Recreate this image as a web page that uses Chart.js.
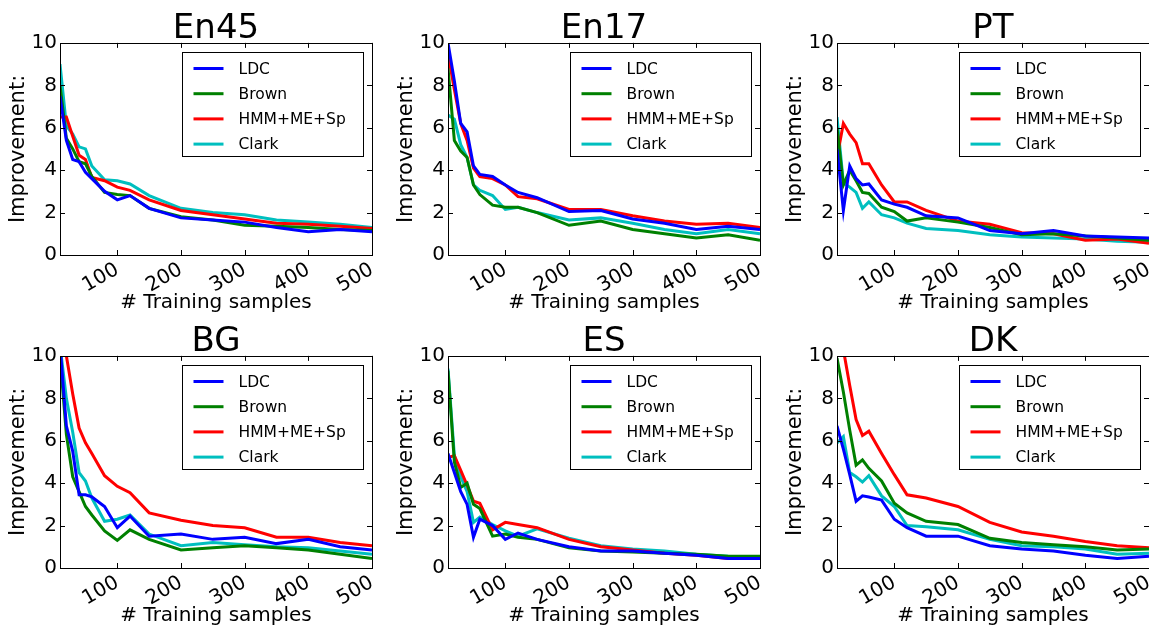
<!DOCTYPE html>
<html lang="en">
<head>
    <meta charset="UTF-8">
    <title>Improvement vs training samples</title>
    <script src="https://cdn.jsdelivr.net/npm/chart.js"></script>
    <style>
        body {
            margin: 0;
            width: 1149px;
            height: 626px;
            overflow: hidden;
            background: #ffffff;
            font-family: "DejaVu Sans", sans-serif;
            position: relative;
        }
        .panel {
            position: absolute;
            width: 383px;
            height: 313px;
        }
    </style>
</head>
<body>
    <div class="panel" style="left:0px;top:0px"><canvas id="c0"></canvas></div>
    <div class="panel" style="left:388px;top:0px"><canvas id="c1"></canvas></div>
    <div class="panel" style="left:777px;top:0px"><canvas id="c2"></canvas></div>
    <div class="panel" style="left:0px;top:313px"><canvas id="c3"></canvas></div>
    <div class="panel" style="left:388px;top:313px"><canvas id="c4"></canvas></div>
    <div class="panel" style="left:777px;top:313px"><canvas id="c5"></canvas></div>

    <script>
        // x values and tick labels
        const samples = [10, 20, 30, 40, 50, 60, 80, 100, 120, 150, 200, 250, 300, 350, 400, 450, 500];
        const xTicks = [100, 200, 300, 400, 500];
        const yTicks = [0, 2, 4, 6, 8, 10];
        const methods = ['LDC', 'Brown', 'HMM+ME+Sp', 'Clark'];
        const titles = ['En45', 'En17', 'PT', 'BG', 'ES', 'DK'];

        // one list per panel, series in the order of methods
        const en45 = [
            [7.5, 5.4, 4.5, 4.4, 3.9, 3.6, 3.0, 2.6, 2.8, 2.2, 1.75, 1.65, 1.55, 1.3, 1.1, 1.2, 1.1],
            [8.0, 5.5, 5.0, 4.4, 4.3, 3.7, 2.95, 2.85, 2.8, 2.2, 1.8, 1.65, 1.4, 1.35, 1.3, 1.2, 1.15],
            [6.5, 6.5, 5.6, 4.7, 4.5, 3.65, 3.5, 3.2, 3.05, 2.6, 2.1, 1.9, 1.7, 1.5, 1.45, 1.35, 1.25],
            [9.0, 6.1, 5.7, 5.1, 5.0, 4.2, 3.55, 3.5, 3.35, 2.8, 2.2, 2.0, 1.9, 1.65, 1.55, 1.45, 1.3]
        ];
        const en17 = [
            [10.0, 8.2, 6.2, 5.8, 4.2, 3.8, 3.7, 3.3, 2.95, 2.7, 2.05, 2.1, 1.7, 1.5, 1.2, 1.35, 1.2],
            [8.8, 5.4, 4.9, 4.6, 3.3, 2.85, 2.35, 2.25, 2.25, 2.0, 1.4, 1.6, 1.2, 1.0, 0.8, 0.95, 0.7],
            [9.5, 7.8, 6.2, 5.4, 4.1, 3.7, 3.6, 3.3, 2.75, 2.65, 2.15, 2.15, 1.85, 1.6, 1.45, 1.5, 1.3],
            [6.6, 6.4, 5.2, 4.6, 3.3, 3.05, 2.8, 2.15, 2.25, 2.0, 1.65, 1.75, 1.5, 1.2, 1.0, 1.2, 1.0]
        ];
        const pt = [
            [5.0, 2.1, 4.2, 3.6, 3.3, 3.35, 2.6, 2.4, 2.25, 1.85, 1.75, 1.15, 1.0, 1.15, 0.9, 0.85, 0.8],
            [6.0, 3.3, 4.0, 3.5, 2.95, 2.9, 2.25, 2.05, 1.6, 1.75, 1.55, 1.3, 0.95, 1.0, 0.9, 0.8, 0.7],
            [4.6, 6.2, 5.7, 5.3, 4.3, 4.3, 3.3, 2.5, 2.5, 2.1, 1.6, 1.45, 1.05, 1.0, 0.7, 0.75, 0.55],
            [6.5, 3.4, 3.2, 2.95, 2.2, 2.5, 1.9, 1.75, 1.5, 1.25, 1.15, 0.95, 0.85, 0.8, 0.75, 0.65, 0.6]
        ];
        const bg = [
            [10.5, 6.7, 5.5, 3.45, 3.45, 3.35, 2.9, 1.9, 2.45, 1.5, 1.6, 1.35, 1.45, 1.15, 1.35, 1.0, 0.85],
            [10.0, 6.3, 4.3, 3.6, 2.9, 2.5, 1.75, 1.3, 1.8, 1.35, 0.85, 0.95, 1.05, 0.95, 0.85, 0.65, 0.45],
            [12.5, 10.0, 8.2, 6.6, 5.9, 5.4, 4.35, 3.85, 3.55, 2.6, 2.25, 2.0, 1.9, 1.45, 1.45, 1.2, 1.05],
            [10.5, 8.0, 6.4, 4.5, 4.1, 3.3, 2.2, 2.3, 2.5, 1.6, 1.05, 1.2, 1.1, 1.0, 0.95, 0.8, 0.65]
        ];
        const es = [
            [5.4, 4.5, 3.6, 3.0, 1.45, 2.3, 2.0, 1.35, 1.65, 1.35, 1.0, 0.8, 0.8, 0.7, 0.6, 0.45, 0.45],
            [9.3, 5.0, 3.8, 4.0, 3.0, 2.8, 1.5, 1.6, 1.45, 1.35, 0.95, 0.8, 0.75, 0.7, 0.65, 0.55, 0.55],
            [5.2, 5.3, 4.6, 3.9, 3.15, 3.05, 1.8, 2.15, 2.05, 1.9, 1.35, 1.0, 0.85, 0.7, 0.6, 0.45, 0.45],
            [9.4, 5.3, 4.3, 3.6, 2.15, 2.4, 2.05, 1.75, 1.5, 1.85, 1.4, 1.05, 0.9, 0.8, 0.65, 0.55, 0.5]
        ];
        const dk = [
            [6.7, 5.6, 4.4, 3.15, 3.4, 3.35, 3.2, 2.3, 1.9, 1.5, 1.5, 1.05, 0.9, 0.8, 0.6, 0.45, 0.55],
            [9.9, 8.3, 6.5, 4.85, 5.1, 4.7, 4.1, 3.05, 2.6, 2.2, 2.05, 1.4, 1.2, 1.1, 1.0, 0.85, 0.9],
            [13.0, 10.3, 8.6, 7.0, 6.25, 6.45, 5.4, 4.4, 3.45, 3.3, 2.9, 2.15, 1.7, 1.5, 1.25, 1.05, 0.95],
            [5.9, 6.2, 4.5, 4.3, 4.05, 4.35, 3.4, 2.9, 2.0, 1.95, 1.8, 1.35, 1.05, 1.0, 0.9, 0.65, 0.7]
        ];

        const panelData = [en45, en17, pt, bg, es, dk];
        const lineColors = ['#0000ff', '#008000', '#ff0000', '#00bfbf'];
        const FONT = '"DejaVu Sans", sans-serif';

        // box around the plot + inward tick marks like matplotlib
        const framePlugin = {
            id: 'frame',
            afterDatasetsDraw(chart) {
                const { ctx, chartArea: a, scales } = chart;
                ctx.save();
                ctx.strokeStyle = '#000';
                ctx.lineWidth = 1;
                ctx.beginPath();
                xTicks.forEach(v => {
                    const x = Math.round(scales.x.getPixelForValue(v)) + 0.5;
                    ctx.moveTo(x, a.bottom); ctx.lineTo(x, a.bottom - 5);
                    ctx.moveTo(x, a.top); ctx.lineTo(x, a.top + 5);
                });
                yTicks.forEach(v => {
                    const y = Math.round(scales.y.getPixelForValue(v)) + 0.5;
                    ctx.moveTo(a.left, y); ctx.lineTo(a.left + 5, y);
                    ctx.moveTo(a.right, y); ctx.lineTo(a.right - 5, y);
                });
                ctx.stroke();
                ctx.strokeRect(Math.round(a.left) + 0.5, Math.round(a.top) + 0.5,
                    Math.round(a.right - a.left), Math.round(a.bottom - a.top));
                ctx.restore();
            }
        };

        // boxed legend in the upper right corner of the plot
        const boxLegend = {
            id: 'boxLegend',
            afterDraw(chart) {
                const { ctx, chartArea: a } = chart;
                const w = 181, h = 104;
                const left = Math.round(a.right - 9 - w) + 0.5;
                const top = Math.round(a.top + 9) + 0.5;
                ctx.save();
                ctx.fillStyle = '#fff';
                ctx.fillRect(left, top, w, h);
                ctx.strokeStyle = '#000';
                ctx.lineWidth = 1;
                ctx.strokeRect(left, top, w, h);
                chart.data.datasets.forEach((ds, i) => {
                    const y = top + 16 + i * 25.2;
                    ctx.strokeStyle = ds.borderColor;
                    ctx.lineWidth = 3;
                    ctx.beginPath();
                    ctx.moveTo(left + 11, y);
                    ctx.lineTo(left + 41, y);
                    ctx.stroke();
                    ctx.fillStyle = '#000';
                    ctx.font = '15.5px ' + FONT;
                    ctx.textBaseline = 'middle';
                    ctx.fillText(ds.label, left + 56, y + 1);
                });
                ctx.restore();
            }
        };

        panelData.forEach((series, p) => {
            new Chart(document.getElementById('c' + p), {
                type: 'line',
                data: {
                    labels: samples,
                    datasets: series.map((vals, i) => ({
                        label: methods[i],
                        data: vals.map((v, k) => ({ x: samples[k], y: v })),
                        borderColor: lineColors[i],
                        backgroundColor: lineColors[i],
                        borderWidth: 3,
                        pointRadius: 0,
                        tension: 0,
                        fill: false
                    }))
                },
                options: {
                    responsive: true,
                    maintainAspectRatio: false,
                    animation: false,
                    devicePixelRatio: 1,
                    layout: { padding: { left: 0, right: 11, top: 0, bottom: 0 } },
                    plugins: {
                        legend: { display: false },
                        tooltip: { enabled: false },
                        title: {
                            display: true,
                            text: titles[p],
                            fullSize: false,
                            color: '#000',
                            font: { family: FONT, size: 34, weight: 'normal', lineHeight: 0.82 },
                            padding: { top: 15, bottom: 0 }
                        }
                    },
                    scales: {
                        x: {
                            type: 'linear',
                            min: 10,
                            max: 500,
                            afterBuildTicks: s => { s.ticks = xTicks.map(v => ({ value: v })); },
                            afterFit: s => { s.height = 58; s.paddingLeft = 0; s.paddingRight = 0; },
                            grid: { display: false, drawTicks: false },
                            border: { display: false },
                            ticks: {
                                autoSkip: false,
                                minRotation: 30,
                                maxRotation: 30,
                                padding: 3,
                                color: '#000',
                                font: { family: FONT, size: 20 }
                            },
                            title: {
                                display: true,
                                text: '# Training samples',
                                color: '#000',
                                font: { family: FONT, size: 20, lineHeight: 1.0 },
                                padding: { top: 0, bottom: 0 }
                            }
                        },
                        y: {
                            min: 0,
                            max: 10,
                            afterBuildTicks: s => { s.ticks = yTicks.map(v => ({ value: v })); },
                            afterFit: s => { s.width = 60; },
                            grid: { display: false, drawTicks: false },
                            border: { display: false },
                            ticks: {
                                padding: 3,
                                color: '#000',
                                font: { family: FONT, size: 20 }
                            },
                            title: {
                                display: true,
                                text: 'Improvement:',
                                color: '#000',
                                font: { family: FONT, size: 21, lineHeight: 1.2 },
                                padding: { top: 6, bottom: 0 }
                            }
                        }
                    }
                },
                plugins: [framePlugin, boxLegend]
            });
        });
    </script>
</body>
</html>
